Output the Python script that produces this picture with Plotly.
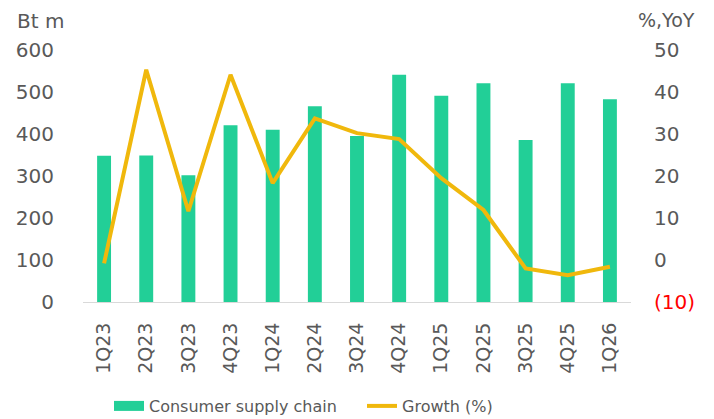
import plotly.graph_objects as go

quarters = ["1Q23", "2Q23", "3Q23", "4Q23", "1Q24", "2Q24", "3Q24",
            "4Q24", "1Q25", "2Q25", "3Q25", "4Q25", "1Q26"]
supply_chain = [348, 349, 302, 421, 410, 466, 395, 541, 491, 521, 386, 521, 483]
growth = [-0.8, 45.3, 11.6, 44.1, 18.3, 33.7, 30.2, 28.8, 19.5, 11.9, -2.0, -3.6, -1.6]

left_ticks = [0, 100, 200, 300, 400, 500, 600]
right_ticks = [-10, 0, 10, 20, 30, 40, 50]
right_labels = ["<span style='color:#FF0000'>(10)</span>", "0", "10", "20", "30", "40", "50"]

GREEN = "#22CF97"
GOLD = "#F0B80C"
GREY = "#595959"
FONT = "DejaVu Sans"

fig = go.Figure()
fig.add_trace(go.Bar(x=quarters, y=supply_chain, marker=dict(color=GREEN, line=dict(width=0)),
                     width=0.33, showlegend=False, name="Consumer supply chain"))
# legend-only entry for the bars (wide box symbol)
fig.add_trace(go.Scatter(x=[None], y=[None], mode="lines", name="Consumer supply chain",
                         line=dict(color=GREEN, width=14), showlegend=True))
fig.add_trace(go.Scatter(x=quarters, y=growth, mode="lines", name="Growth (%)",
                         line=dict(color=GOLD, width=4), yaxis="y2"))

fig.update_layout(
    template="none",
    width=714, height=419,
    margin=dict(l=83, r=83, t=50, b=117, pad=0),
    paper_bgcolor="white", plot_bgcolor="white",
    font=dict(family=FONT, color=GREY, size=19),
    xaxis=dict(type="category", tickangle=-90, showgrid=False, zeroline=False,
               showline=True, linecolor="#D9D9D9", linewidth=1, ticks="",
               automargin=False,
               ticklabelstandoff=12, tickfont=dict(size=19, color=GREY)),
    yaxis=dict(range=[0, 600], tickvals=left_ticks, showgrid=False, zeroline=False,
               showline=False, ticks="", ticklabelstandoff=28, automargin=False,
               tickfont=dict(size=20, color=GREY)),
    yaxis2=dict(range=[-10, 50], tickvals=right_ticks, ticktext=right_labels,
                overlaying="y", side="right", showgrid=False, zeroline=False,
                showline=False, ticks="", ticklabelstandoff=22, automargin=False,
                tickfont=dict(size=20, color=GREY)),
    legend=dict(orientation="h", x=109/714, xanchor="left", y=13/419, yanchor="middle",
                yref="container", xref="container", font=dict(size=16, color=GREY),
                entrywidth=208, entrywidthmode="pixels", bgcolor="rgba(0,0,0,0)"),
    annotations=[
        dict(text="Bt m", xref="paper", yref="paper", x=-83/548, y=1 + 29/252,
             xanchor="left", yanchor="middle", showarrow=False,
             font=dict(size=20, color=GREY, family=FONT), xshift=15),
        dict(text="%,YoY", xref="paper", yref="paper", x=1 + 66/548, y=1 + 30/252,
             xanchor="right", yanchor="middle", showarrow=False,
             font=dict(size=19, color=GREY, family=FONT)),
    ],
)

fig.write_html("out.html", config={"displayModeBar": False},
               post_script="document.body.style.margin='0';")
